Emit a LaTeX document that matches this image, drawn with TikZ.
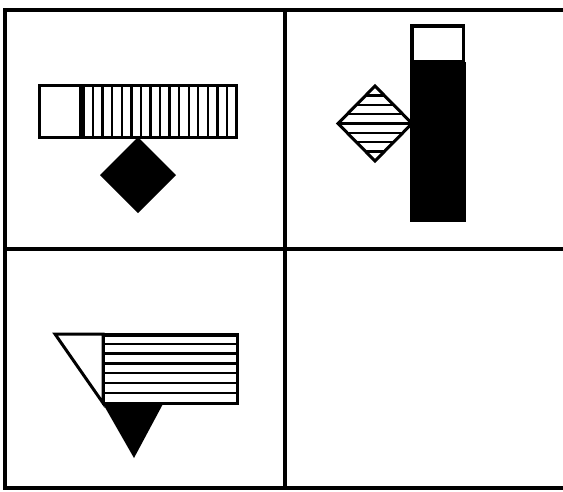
\documentclass[tikz,border=0pt]{standalone}
\usepackage{tikz}
\usetikzlibrary{calc}

\begin{document}
\begin{tikzpicture}[x=1pt, y=-1pt,
    frameline/.style={line width=3.6pt},
    outline/.style={line width=3pt, line join=miter},
    hatch/.style={line width=2.3pt}]
  \useasboundingbox (0,0) rectangle (563,491);
  \fill[white] (0,0) rectangle (563,491);

  % grid of the four panels
  \draw[frameline] (563,10) -- (5,10) -- (5,488) -- (563,488);
  \draw[frameline] (285,10) -- (285,488);
  \draw[frameline] (5,249) -- (563,249);

  % top left: striped bar over a black diamond
  \foreach \k in {0,...,15}
    \draw[hatch] ({83.5+9.57*\k},85) -- ++(0,52);
  \draw[outline] (39.5,85.5) rectangle (236,137);
  \draw[outline] (80,85) -- (80,137);
  \fill (138,137) -- (176,175) -- (138,213) -- (100,175) -- cycle;

  % top right: striped diamond beside a black column
  \begin{scope}
    \clip (375,86) -- (412,123.5) -- (375,161) -- (338,123.5) -- cycle;
    \foreach \k in {-3,...,3}
      \draw[hatch] (330,{123.5+9.3*\k}) -- (420,{123.5+9.3*\k});
  \end{scope}
  \draw[outline] (375,86) -- (412,123.5) -- (375,161) -- (338,123.5) -- cycle;
  \fill (410,62) rectangle (466,222);
  \draw[line width=3.6pt] (411.8,25.8) rectangle (463.5,62);

  % bottom left: white triangle, striped bar, black triangle
  \draw[outline] (55,334) -- (103,334) -- (103,403) -- cycle;
  \foreach \k in {1,...,6}
    \draw[hatch] (103,{334+9.8*\k}) -- (237,{334+9.8*\k});
  \draw[outline] (103,334) rectangle (237,403);
  \draw[line width=2pt] (103,336) -- (237,336);
  \fill (102,402) -- (164,402) -- (134,458) -- cycle;
\end{tikzpicture}
\end{document}
